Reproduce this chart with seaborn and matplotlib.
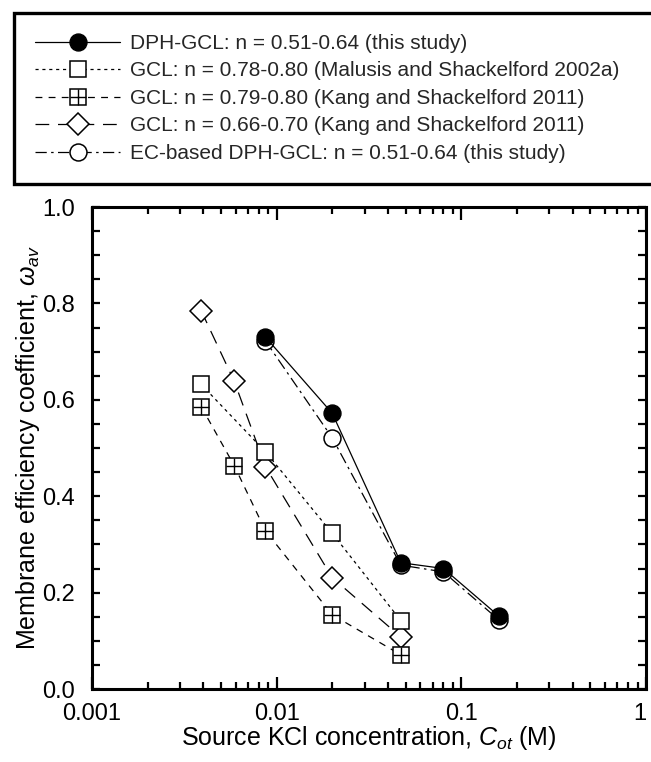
import numpy as np
import pandas as pd
import matplotlib
matplotlib.use("Agg")
import matplotlib.pyplot as plt
import seaborn as sns
from matplotlib.lines import Line2D
from matplotlib.legend_handler import HandlerTuple
from matplotlib.ticker import LogLocator, FixedLocator, MultipleLocator, NullFormatter, FixedFormatter

# ---------------- data ----------------
dph_x = [0.0087, 0.020, 0.047, 0.080, 0.160]
dph_y = [0.730, 0.572, 0.262, 0.250, 0.151]

mal_x = [0.0039, 0.0087, 0.020, 0.047]
mal_y = [0.632, 0.492, 0.323, 0.142]

kang79_x = [0.0039, 0.0059, 0.0087, 0.020, 0.047]
kang79_y = [0.586, 0.463, 0.328, 0.154, 0.071]

kang66_x = [0.0039, 0.0059, 0.0087, 0.020, 0.047]
kang66_y = [0.785, 0.638, 0.461, 0.231, 0.108]

ec_x = [0.0087, 0.020, 0.047, 0.080, 0.160]
ec_y = [0.722, 0.521, 0.257, 0.243, 0.143]

labels = [
    "DPH-GCL: n = 0.51-0.64 (this study)",
    "GCL: n = 0.78-0.80 (Malusis and Shackelford 2002a)",
    "GCL: n = 0.79-0.80 (Kang and Shackelford 2011)",
    "GCL: n = 0.66-0.70 (Kang and Shackelford 2011)",
    "EC-based DPH-GCL: n = 0.51-0.64 (this study)",
]
x_ticks = [0.001, 0.01, 0.1, 1]
x_ticklabels = ["0.001", "0.01", "0.1", "1"]
y_ticks = [0.0, 0.2, 0.4, 0.6, 0.8, 1.0]
y_ticklabels = ["0.0", "0.2", "0.4", "0.6", "0.8", "1.0"]

# ---------------- style ----------------
sns.set_theme(style="ticks")
plt.rcParams["font.family"] = ["Liberation Sans", "DejaVu Sans"]
plt.rcParams["mathtext.fontset"] = "custom"
plt.rcParams["mathtext.rm"] = "Liberation Sans"
plt.rcParams["mathtext.it"] = "Liberation Sans:italic"
plt.rcParams["mathtext.bf"] = "Liberation Sans:bold"

fig = plt.figure(figsize=(6.51, 7.62), dpi=100)
W, H = 651, 762
ax = fig.add_axes([92 / W, 1 - 689 / H, (646 - 92) / W, (689 - 207) / H])

lw = 0.9
ms_c = 12.2
ms_s = 11.8
ms_d = 11.0

ls_mal = (0, (2.5, 3.0))
ls_k79 = (0, (5.5, 5.0))
ls_k66 = (0, (11, 7))
ls_ec = (0, (9, 3.5, 2, 3.5))

def df(x, y):
    return pd.DataFrame({"x": x, "y": y})

# Kang 0.66 (diamonds)
sns.lineplot(data=df(kang66_x, kang66_y), x="x", y="y", ax=ax, color="black",
             linewidth=lw, linestyle=ls_k66, marker="D", markersize=ms_d,
             markerfacecolor="white", markeredgecolor="black", markeredgewidth=1.1, zorder=3)
# Kang 0.79 (grid squares)
sns.lineplot(data=df(kang79_x, kang79_y), x="x", y="y", ax=ax, color="black",
             linewidth=lw, linestyle=ls_k79, marker="s", markersize=ms_s,
             markerfacecolor="white", markeredgecolor="black", markeredgewidth=1.1, zorder=3)
sns.lineplot(data=df(kang79_x, kang79_y), x="x", y="y", ax=ax, color="black",
             linewidth=0, linestyle="none", marker="+", markersize=ms_s,
             markeredgecolor="black", markeredgewidth=1.0, zorder=3.1)
# Malusis (open squares)
sns.lineplot(data=df(mal_x, mal_y), x="x", y="y", ax=ax, color="black",
             linewidth=lw, linestyle=ls_mal, marker="s", markersize=ms_s,
             markerfacecolor="white", markeredgecolor="black", markeredgewidth=1.1, zorder=3)
# EC-based (open circles)
sns.lineplot(data=df(ec_x, ec_y), x="x", y="y", ax=ax, color="black",
             linewidth=lw, linestyle=ls_ec, marker="o", markersize=ms_c,
             markerfacecolor="white", markeredgecolor="black", markeredgewidth=1.1, zorder=3)
# DPH-GCL (filled circles)
sns.lineplot(data=df(dph_x, dph_y), x="x", y="y", ax=ax, color="black",
             linewidth=lw, linestyle="-", marker="o", markersize=ms_c,
             markerfacecolor="black", markeredgecolor="black", markeredgewidth=1.0, zorder=4)

ax.set_xscale("log")
ax.set_xlim(0.001, 1)
ax.set_ylim(0, 1)
ax.xaxis.set_major_locator(FixedLocator(x_ticks))
ax.xaxis.set_major_formatter(FixedFormatter(x_ticklabels))
ax.xaxis.set_minor_locator(LogLocator(base=10, subs=np.arange(2, 10)))
ax.xaxis.set_minor_formatter(NullFormatter())
ax.yaxis.set_major_locator(FixedLocator(y_ticks))
ax.yaxis.set_major_formatter(FixedFormatter(y_ticklabels))
ax.yaxis.set_minor_locator(MultipleLocator(0.05))

for s in ax.spines.values():
    s.set_linewidth(2.2)
    s.set_color("black")
    s.set_visible(True)
ax.tick_params(axis="both", which="both", direction="in", top=True, right=True,
               colors="black", labelsize=17)
ax.tick_params(axis="x", which="major", length=9, width=1.6, pad=10)
ax.tick_params(axis="x", which="minor", length=5, width=1.6)
ax.tick_params(axis="y", which="major", length=6, width=1.6, pad=12)
ax.tick_params(axis="y", which="minor", length=6, width=1.6)

ax.set_xlabel(r"Source KCl concentration, $C_{ot}$ (M)", fontsize=18, labelpad=-1, color="black")
ax.set_ylabel(r"Membrane efficiency coefficient, $\omega_{av}$", fontsize=18, labelpad=0, color="black")
ax.grid(False)

# keep the last x tick label ("1") inside the figure edge
fig.canvas.draw()
ax.get_xticklabels()[-1].set_horizontalalignment("right")

# ---------------- legend ----------------
h1 = Line2D([], [], color="black", lw=lw, ls="-", marker="o", ms=ms_c,
            mfc="black", mec="black")
h2 = Line2D([], [], color="black", lw=lw, ls=ls_mal, marker="s", ms=ms_s,
            mfc="white", mec="black", mew=1.1)
h3a = Line2D([], [], color="black", lw=lw, ls=ls_k79, marker="s", ms=ms_s,
             mfc="white", mec="black", mew=1.1)
h3b = Line2D([], [], color="black", lw=0, ls="none", marker="+", ms=ms_s,
             mec="black", mew=1.0)
h4 = Line2D([], [], color="black", lw=lw, ls=ls_k66, marker="D", ms=ms_d,
            mfc="white", mec="black", mew=1.1)
h5 = Line2D([], [], color="black", lw=lw, ls=ls_ec, marker="o", ms=ms_c,
            mfc="white", mec="black", mew=1.1)

leg = fig.legend([h1, h2, (h3a, h3b), h4, h5], labels,
                 loc="upper left",
                 bbox_to_anchor=(14 / W, 1 - 184 / H, 1.0, 171 / H),
                 mode="expand", fontsize=15, frameon=True, fancybox=False,
                 handlelength=4.1, handletextpad=0.45, labelspacing=0.41,
                 borderpad=1.0, borderaxespad=0,
                 handler_map={tuple: HandlerTuple(ndivide=1)})
fr = leg.get_frame()
fr.set_edgecolor("black")
fr.set_linewidth(2.4)
fr.set_facecolor("white")
fr.set_alpha(1)

fig.savefig("out.png", dpi=100)
